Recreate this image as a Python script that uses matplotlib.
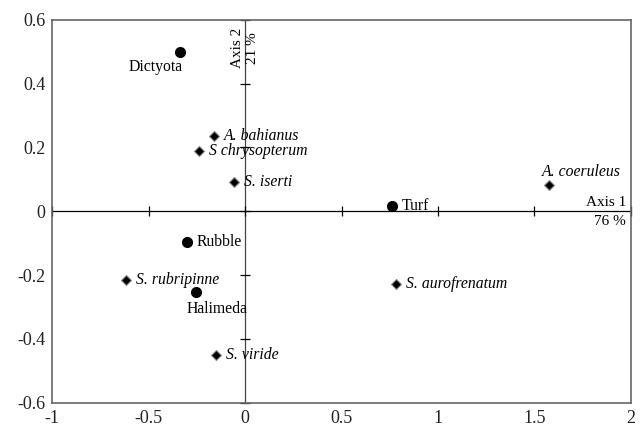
import matplotlib
matplotlib.use("Agg")
import matplotlib.pyplot as plt
import numpy as np

plt.rcParams['font.family'] = ['Liberation Serif', 'DejaVu Serif']

# substrates (circles)
sub_names = ['Dictyota', 'Turf', 'Rubble', 'Halimeda']
sub_x = [-0.338, 0.761, -0.301, -0.255]
sub_y = [0.499, 0.016, -0.096, -0.253]

# fish species (diamonds)
sp_names = ['A. bahianus', 'S chrysopterum', 'S. iserti', 'A. coeruleus',
            'S. rubripinne', 'S. aurofrenatum', 'S. viride']
sp_x = [-0.161, -0.239, -0.058, 1.575, -0.618, 0.783, -0.151]
sp_y = [0.236, 0.189, 0.091, 0.082, -0.216, -0.228, -0.45]

xticks = [-1, -0.5, 0, 0.5, 1, 1.5, 2]
xticklabels = ['-1', '-0.5', '0', '0.5', '1', '1.5', '2']
yticks = [-0.6, -0.4, -0.2, 0, 0.2, 0.4, 0.6]
yticklabels = ['-0.6', '-0.4', '-0.2', '0', '0.2', '0.4', '0.6']

fig = plt.figure(figsize=(6.42, 4.26), dpi=100)
ax = fig.add_axes([0.0815, 0.0547, 0.9009, 0.8991])
ax.set_xlim(-1, 2)
ax.set_ylim(-0.6, 0.6)
for s in ax.spines.values():
    s.set_color('#666666')
    s.set_linewidth(1.2)
ax.set_xticks(xticks)
ax.set_xticklabels(xticklabels)
ax.set_yticks(yticks)
ax.set_yticklabels(yticklabels)
ax.tick_params(length=0, labelsize=13, labelcolor='#222222')
ax.tick_params(axis='x', pad=5)
ax.tick_params(axis='y', pad=5)

# axes through origin
ax.axhline(0, color='black', lw=0.9, zorder=1)
ax.axvline(0, color='#444444', lw=0.9, zorder=1)
ax.plot(xticks, [0] * len(xticks), ls='none', marker='|', ms=7, color='black', mew=0.9, clip_on=False)
ax.plot([0] * len(yticks), yticks, ls='none', marker='_', ms=7, color='black', mew=0.9, clip_on=False)

ax.text(1.976, 0.006, 'Axis 1', ha='right', va='bottom', fontsize=11)
ax.text(1.976, -0.012, '76 %', ha='right', va='top', fontsize=11)
ax.text(-0.006, 0.575, 'Axis 2', ha='right', va='top', rotation=90, fontsize=11)
ax.text(0.006, 0.56, '21 %', ha='left', va='top', rotation=90, fontsize=11)

ax.plot(sub_x, sub_y, ls='none', marker='o', ms=7, color='black', zorder=3)
ax.plot(sp_x, sp_y, ls='none', marker='D', ms=5.5, markerfacecolor='black',
        markeredgecolor='#888888', mew=0.8, zorder=3)

# substrate labels
ax.text(-0.462, 0.452, 'Dictyota', ha='center', va='center', fontsize=11.3)
ax.text(0.815, 0.016, 'Turf', ha='left', va='center', fontsize=11.3)
ax.text(-0.25, -0.096, 'Rubble', ha='left', va='center', fontsize=11.3)
ax.text(-0.146, -0.306, 'Halimeda', ha='center', va='center', fontsize=11.3)

# species labels
for name, x, y in zip(sp_names, sp_x, sp_y):
    if name == 'A. coeruleus':
        ax.text(1.742, 0.122, name, ha='center', va='center', fontsize=11.3, style='italic')
    else:
        ax.text(x + 0.05, y, name, ha='left', va='center', fontsize=11.3, style='italic')

fig.savefig('out.png', dpi=100)
